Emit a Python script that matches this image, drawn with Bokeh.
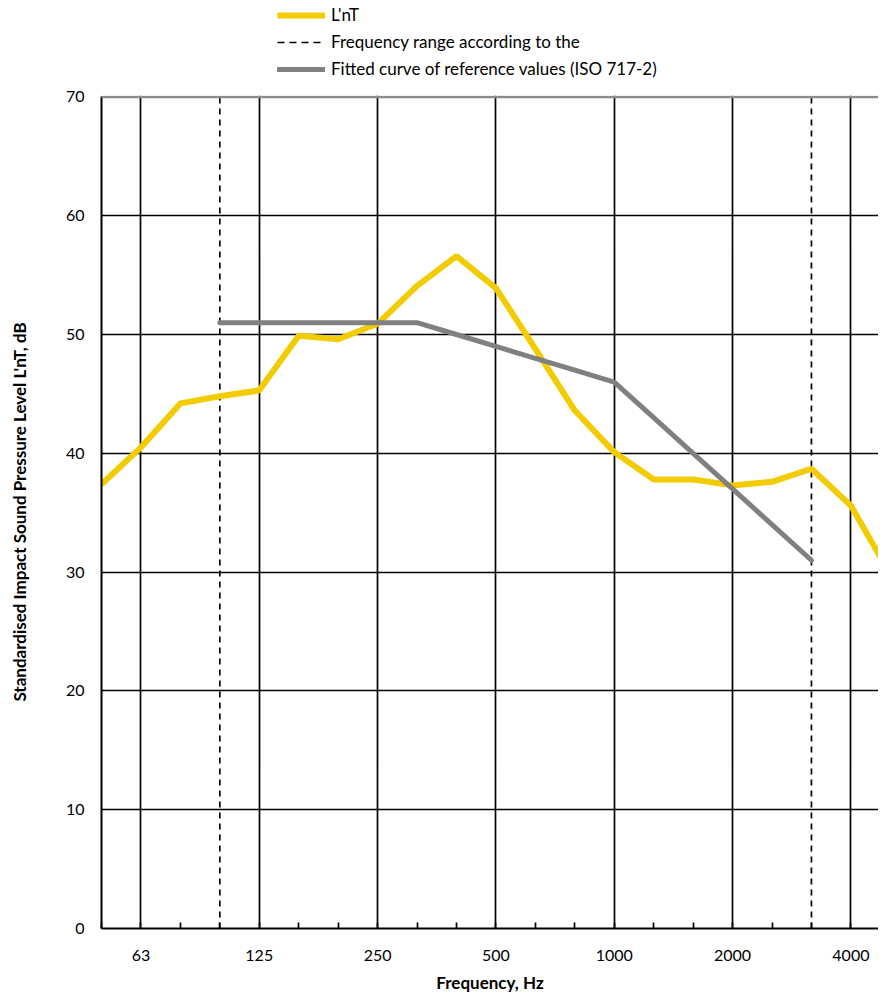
from bokeh.plotting import figure
from bokeh.layouts import column
from bokeh.models import (Legend, LegendItem, FixedTicker, Span, ColumnDataSource)
from bokeh.embed import file_html
from bokeh.resources import INLINE

# Third-octave bands
freqs = ["50", "63", "80", "100", "125", "160", "200", "250", "315", "400", "500",
         "630", "800", "1000", "1250", "1600", "2000", "2500", "3150", "4000", "5000"]
lnt = [37.4, 40.5, 44.2, 44.8, 45.3, 49.9, 49.6, 50.9, 54.1, 56.6, 53.9,
       48.8, 43.6, 40.1, 37.8, 37.8, 37.3, 37.6, 38.7, 35.6, 29.8]
ref_freqs = ["100", "125", "160", "200", "250", "315", "400", "500", "630", "800",
             "1000", "1250", "1600", "2000", "2500", "3150"]
ref_vals = [51, 51, 51, 51, 51, 51, 50, 49, 48, 47, 46, 43, 40, 37, 34, 31]
labelled = ["63", "125", "250", "500", "1000", "2000", "4000"]
range_limits = ["100", "3150"]
y_ticks = [0, 10, 20, 30, 40, 50, 60, 70]
legend_labels = ["L'nT", "Frequency range according to the",
                 "Fitted curve of reference values (ISO 717-2)"]

idx = {f: i for i, f in enumerate(freqs)}
FONT = "Lato"
YELLOW = "#F2CB00"
GREY = "#808080"
W = 878

# ---------------- legend strip ----------------
LH = 83
lg = figure(width=W, height=LH, output_backend="svg", toolbar_location=None,
            x_range=(0, 1), y_range=(0, 1), min_border=0,
            min_border_left=0, min_border_right=0, min_border_top=0, min_border_bottom=0)
lg.outline_line_color = None
lg.axis.visible = False
lg.grid.visible = False
l1 = lg.line([5, 6], [5, 6], line_color=YELLOW, line_width=6)
l2 = lg.line([5, 6], [5, 6], line_color="black", line_width=1.5, line_dash="7 5")
l3 = lg.line([5, 6], [5, 6], line_color=GREY, line_width=5, line_cap="round")
legend = Legend(items=[LegendItem(label=legend_labels[0], renderers=[l1]),
                       LegendItem(label=legend_labels[1], renderers=[l2]),
                       LegendItem(label=legend_labels[2], renderers=[l3])],
                location=(176, 4), orientation="vertical")
legend.border_line_color = None
legend.background_fill_alpha = 0
legend.label_text_font = FONT
legend.label_text_font_size = "17px"
legend.label_text_color = "black"
legend.glyph_width = 48
legend.glyph_height = 20
legend.label_height = 20
legend.spacing = 6
legend.padding = 0
legend.margin = 0
legend.label_standoff = 6
lg.add_layout(legend)

# ---------------- main chart ----------------
H = 995 - LH
p = figure(width=W, height=H, output_backend="svg", toolbar_location=None,
           x_range=(0, 19.70), y_range=(0, 70.12),
           min_border_left=101, min_border_right=0, min_border_top=12,
           min_border_bottom=64)
p.outline_line_color = None
p.background_fill_color = "white"

p.ygrid.ticker = FixedTicker(ticks=[10, 20, 30, 40, 50, 60])
p.ygrid.grid_line_color = "black"
p.ygrid.grid_line_width = 1.7
p.xgrid.ticker = FixedTicker(ticks=[idx[f] for f in labelled])
p.xgrid.grid_line_color = "black"
p.xgrid.grid_line_width = 1.7

p.add_layout(Span(location=70, dimension="width", line_color="#8c8c8c", line_width=2.5))

dx = [idx[f] for f in range_limits]
p.segment(x0=dx, x1=dx, y0=[0] * len(dx), y1=[70] * len(dx),
          line_color="black", line_width=1.7, line_dash="6 5")

xa = p.xaxis[0]
xa.ticker = FixedTicker(ticks=[idx[f] for f in labelled],
                        minor_ticks=list(range(len(freqs))))
xa.major_label_overrides = {idx[f]: f for f in labelled}
xa.major_tick_in = 0
xa.major_tick_out = 0
xa.minor_tick_in = 6
xa.minor_tick_out = 0
xa.minor_tick_line_color = "black"
xa.minor_tick_line_width = 1.7
xa.axis_line_color = "black"
xa.axis_line_width = 2
xa.major_label_standoff = 21
xa.major_label_text_font = FONT
xa.major_label_text_font_size = "16px"
xa.major_label_text_color = "black"
xa.axis_label = "Frequency, Hz"
xa.axis_label_text_font = FONT
xa.axis_label_text_font_size = "17px"
xa.axis_label_text_font_style = "bold"
xa.axis_label_text_color = "black"
xa.axis_label_standoff = 8

ya = p.yaxis[0]
ya.ticker = FixedTicker(ticks=y_ticks)
ya.bounds = (0, 70)
ya.major_tick_in = 0
ya.major_tick_out = 0
ya.minor_tick_line_color = None
ya.axis_line_color = "black"
ya.axis_line_width = 2
ya.major_label_standoff = 17
ya.major_label_text_font = FONT
ya.major_label_text_font_size = "16px"
ya.major_label_text_color = "black"
ya.axis_label = "Standardised Impact Sound Pressure Level L'nT, dB"
ya.axis_label_text_font = FONT
ya.axis_label_text_font_size = "17px"
ya.axis_label_text_font_style = "bold"
ya.axis_label_text_color = "black"
ya.axis_label_standoff = 33

src = ColumnDataSource(dict(x=[idx[f] for f in freqs], y=lnt))
rsrc = ColumnDataSource(dict(x=[idx[f] for f in ref_freqs], y=ref_vals))
p.line("x", "y", source=src, line_color=YELLOW, line_width=6)
p.line("x", "y", source=rsrc, line_color=GREY, line_width=5, line_cap="round")

layout = column(lg, p, spacing=0)
open("out.html", "w").write(file_html(layout, INLINE))
